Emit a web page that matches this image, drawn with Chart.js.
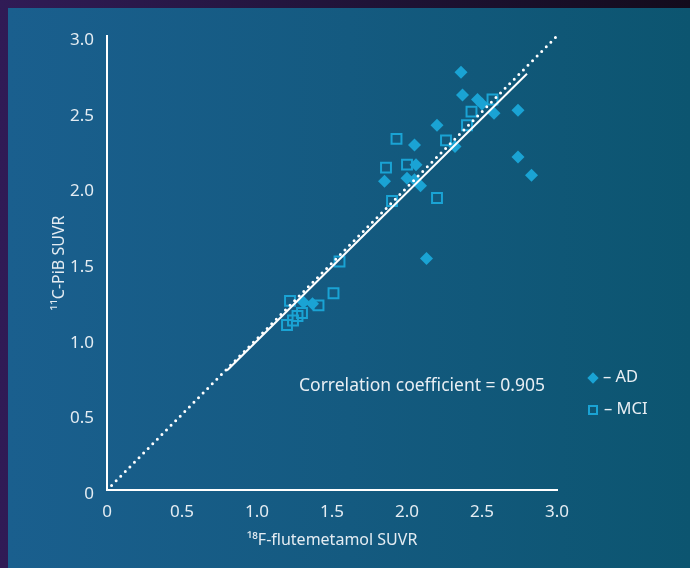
<!DOCTYPE html>
<html>
<head>
<meta charset="utf-8">
<script src="https://cdn.jsdelivr.net/npm/chart.js@4/dist/chart.umd.min.js"></script>
<style>
  html, body { margin: 0; padding: 0; }
  body {
    width: 690px; height: 568px; overflow: hidden; position: relative;
    background: linear-gradient(90deg, #301b56 0%, #1d1233 60%, #130b1c 100%);
    font-family: "Noto Sans", sans-serif;
  }
  #panel {
    position: absolute; left: 8px; top: 8px; width: 682px; height: 560px;
    background: linear-gradient(90deg, #1a5f8e 0%, #145a80 50%, #0c5570 100%);
  }
  #chart { position: absolute; left: 0; top: 0; }
  .note {
    position: absolute; left: 299px; top: 372px; color: #e8eef3;
    font-size: 17.5px; white-space: nowrap; line-height: 24px;
  }
  .legend { position: absolute; left: 587px; color: #e8eef3; font-size: 16.5px; white-space: nowrap; line-height: 22px; }
  .legend .mk { display: inline-block; vertical-align: middle; margin-right: 6px; box-sizing: border-box; }
  .mk.ad { width: 8px; height: 8px; background: #1aa3d4; transform: rotate(45deg); margin-left: 2px; }
  .mk.mci { width: 10px; height: 10px; border: 2px solid #1aa3d4; margin-left: 1px; }
</style>
</head>
<body>
<div id="panel"></div>
<canvas id="chart" width="690" height="568"></canvas>
<div class="note">Correlation coefficient = 0.905</div>
<div class="legend" style="top:365px"><span class="mk ad"></span>– AD</div>
<div class="legend" style="top:397px"><span class="mk mci"></span>– MCI</div>
<script>
// AD patients (diamonds)
const adX = [2.36, 2.37, 2.47, 2.50, 2.58, 2.74, 2.20, 2.05, 2.32, 2.06, 2.74, 2.83, 1.85, 2.00, 2.05, 2.09, 2.13, 1.31, 1.37];
const adY = [2.76, 2.61, 2.58, 2.55, 2.49, 2.51, 2.41, 2.28, 2.27, 2.15, 2.20, 2.08, 2.04, 2.06, 2.05, 2.01, 1.53, 1.24, 1.23];

// MCI patients (hollow squares)
const mciX = [2.57, 2.43, 2.40, 2.26, 1.93, 1.86, 2.00, 1.90, 2.20, 1.55, 1.51, 1.41, 1.22, 1.30, 1.27, 1.24, 1.20];
const mciY = [2.58, 2.50, 2.41, 2.31, 2.32, 2.13, 2.15, 1.91, 1.93, 1.51, 1.30, 1.22, 1.25, 1.17, 1.15, 1.12, 1.09];

// line of identity and fitted line
const identityX = [0, 3];
const identityY = [0, 3];
const fitX = [0.8, 2.8];
const fitY = [0.79, 2.75];

const axisTicks = [0, 0.5, 1.0, 1.5, 2.0, 2.5, 3.0];

const toPoints = (xs, ys) => xs.map((x, i) => ({ x: x, y: ys[i] }));
const markColor = "#1aa3d4";
const textColor = "#e4ecf2";

function tickLabel(v) {
  return v === 0 ? "0" : v.toFixed(1);
}

const ctx = document.getElementById("chart").getContext("2d");
const chart = new Chart(ctx, {
  type: "scatter",
  data: {
    datasets: [
      {
        type: "line",
        label: "identity",
        data: toPoints(identityX, identityY),
        borderColor: "#ffffff",
        borderWidth: 3,
        borderDash: [0, 6.5],
        borderCapStyle: "round",
        pointRadius: 0,
        order: 0,
      },
      {
        type: "line",
        label: "fit",
        data: toPoints(fitX, fitY),
        borderColor: "#ffffff",
        borderWidth: 2,
        pointRadius: 0,
        order: 0,
      },
      {
        label: "AD",
        data: toPoints(adX, adY),
        pointStyle: "rectRot",
        pointRadius: 6.5,
        backgroundColor: markColor,
        borderColor: markColor,
        borderWidth: 0,
        order: 1,
      },
      {
        label: "MCI",
        data: toPoints(mciX, mciY),
        pointStyle: "rect",
        pointRadius: 7,
        backgroundColor: "transparent",
        borderColor: markColor,
        borderWidth: 2,
        order: 1,
      },
    ],
  },
  options: {
    responsive: false,
    animation: false,
    devicePixelRatio: 1,
    layout: { padding: { left: 42, top: 36, right: 133, bottom: 10 } },
    plugins: { legend: { display: false }, tooltip: { enabled: false } },
    scales: {
      x: {
        type: "linear",
        min: 0,
        max: 3,
        afterBuildTicks: (s) => { s.ticks = axisTicks.map((v) => ({ value: v })); },
        afterFit: (s) => { s.height = 68; },
        grid: { display: false, drawTicks: false },
        border: { color: "#ffffff", width: 2 },
        ticks: { color: textColor, font: { family: "Noto Sans", size: 17 }, padding: 12, callback: tickLabel },
        title: { display: true, text: "¹⁸F-flutemetamol SUVR", color: textColor, font: { family: "Noto Sans", size: 16 }, padding: 8 },
      },
      y: {
        type: "linear",
        min: 0,
        max: 3,
        afterBuildTicks: (s) => { s.ticks = axisTicks.map((v) => ({ value: v })); },
        afterFit: (s) => { s.width = 65; },
        grid: { display: false, drawTicks: false },
        border: { color: "#ffffff", width: 2 },
        ticks: { color: textColor, font: { family: "Noto Sans", size: 17 }, padding: 13, labelOffset: 4, callback: tickLabel },
        title: { display: true, text: "¹¹C-PiB SUVR", color: textColor, font: { family: "Noto Sans", size: 16 }, padding: 8 },
      },
    },
  },
});
</script>
</body>
</html>
